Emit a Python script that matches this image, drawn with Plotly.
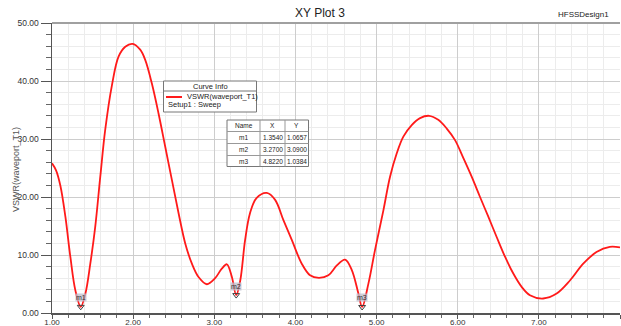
import plotly.graph_objects as go

# ---------------- data ----------------
freq = [1.00, 1.05, 1.104, 1.165, 1.226, 1.288, 1.354, 1.411, 1.472, 1.533, 1.595, 1.656,
        1.739, 1.82, 1.903, 1.993, 2.087, 2.15, 2.23, 2.313, 2.395, 2.478, 2.56, 2.642,
        2.724, 2.806, 2.908, 3.01, 3.09, 3.155, 3.217, 3.27, 3.32, 3.38, 3.44, 3.52,
        3.647, 3.75, 3.852, 3.955, 4.078, 4.18, 4.29, 4.406, 4.51, 4.612, 4.695, 4.776,
        4.822, 4.9, 4.98, 5.084, 5.166, 5.248, 5.33, 5.433, 5.536, 5.647, 5.76, 5.865,
        5.967, 6.07, 6.172, 6.275, 6.377, 6.48, 6.583, 6.685, 6.788, 6.89, 7.054, 7.219,
        7.383, 7.547, 7.71, 7.874, 8.00]
vswr = [25.8, 24.6, 21.9, 16.6, 9.7, 3.9, 1.07, 3.3, 8.5, 14.9, 23.5, 31.6,
        39.3, 44.2, 45.9, 46.4, 45.4, 43.6, 39.6, 34.4, 28.7, 22.9, 17.2, 12.0,
        8.5, 6.2, 4.96, 6.0, 7.6, 8.4, 6.2, 3.09, 5.6, 12.6, 17.2, 19.8,
        20.7, 19.5, 16.0, 12.6, 8.5, 6.5, 6.05, 6.5, 8.2, 9.2, 7.4, 3.35,
        1.04, 5.1, 10.8, 17.7, 23.5, 27.5, 30.4, 32.4, 33.6, 34.0, 33.3, 31.8,
        29.8, 26.7, 23.5, 20.0, 16.6, 13.1, 9.7, 6.8, 4.5, 3.06, 2.5, 3.35,
        5.6, 8.5, 10.5, 11.4, 11.3]

marker_names = ["m1", "m2", "m3"]
marker_x = [1.3540, 3.2700, 4.8220]
marker_y = [1.0657, 3.0900, 1.0384]

table_header = ["Name", "X", "Y"]
series_name = "VSWR(waveport_T1)"
sweep_name = "Setup1 : Sweep"
y_title = "VSWR(waveport_T1)"
plot_title = "XY Plot 3"
design_name = "HFSSDesign1"

# ---------------- layout geometry (pixels) ----------------
W, H = 621, 326
L, R, T, B = 52, 1, 23, 13
PW = W - L - R
PH = H - T - B
FONT = "Liberation Sans, Arial, sans-serif"


def px2x(px):
    return (px - L) / PW


def py2y(py):
    return (H - B - py) / PH


fig = go.Figure()

fig.add_trace(go.Scatter(
    x=freq, y=vswr, mode="lines",
    line=dict(color="#ff1a1a", width=1.8, shape="spline", smoothing=1.0),
    hoverinfo="skip", showlegend=False))

fig.add_trace(go.Scatter(
    x=marker_x, y=marker_y, mode="markers",
    marker=dict(symbol="triangle-down-open", size=6, color="#404040", line=dict(width=1)),
    hoverinfo="skip", showlegend=False))

annotations = []
shapes = []

# marker labels
for n, mx, my in zip(marker_names, marker_x, marker_y):
    annotations.append(dict(x=mx, y=my, xref="x", yref="y", text=n, showarrow=False,
                            yshift=9, font=dict(family=FONT, size=7, color="#333"),
                            bgcolor="rgba(190,190,205,0.75)", borderpad=0))

# title and design name
annotations.append(dict(x=px2x(320), y=py2y(13), xref="paper", yref="paper", text=plot_title,
                        showarrow=False, xanchor="center", yanchor="middle",
                        font=dict(family=FONT, size=12, color="#222")))
annotations.append(dict(x=px2x(611), y=py2y(14), xref="paper", yref="paper", text=design_name,
                        showarrow=False, xanchor="right", yanchor="middle",
                        font=dict(family=FONT, size=8, color="#222")))

# y axis title
annotations.append(dict(x=px2x(16), y=py2y(170), xref="paper", yref="paper", text=y_title,
                        showarrow=False, textangle=-90, xanchor="center", yanchor="middle",
                        font=dict(family=FONT, size=9, color="#555")))

# top border
shapes.append(dict(type="line", xref="paper", yref="paper", x0=0, x1=1, y0=1, y1=1,
                   line=dict(color="#a0a0a0", width=2)))

# ---- Curve Info box ----
bx0, bx1, by0, by1 = 163.5, 256.5, 81, 112
shapes.append(dict(type="rect", xref="paper", yref="paper",
                   x0=px2x(bx0), x1=px2x(bx1), y0=py2y(by1), y1=py2y(by0),
                   line=dict(color="#777", width=1), fillcolor="white", layer="above"))
shapes.append(dict(type="line", xref="paper", yref="paper",
                   x0=px2x(bx0), x1=px2x(bx1), y0=py2y(91), y1=py2y(91),
                   line=dict(color="#777", width=1), layer="above"))
shapes.append(dict(type="line", xref="paper", yref="paper",
                   x0=px2x(166), x1=px2x(182), y0=py2y(97), y1=py2y(97),
                   line=dict(color="#ff1a1a", width=2), layer="above"))
annotations.append(dict(x=px2x(210), y=py2y(86), xref="paper", yref="paper", text="Curve Info",
                        showarrow=False, xanchor="center", yanchor="middle",
                        font=dict(family=FONT, size=7.5, color="#222")))
annotations.append(dict(x=px2x(184.5), y=py2y(97), xref="paper", yref="paper", text=series_name,
                        showarrow=False, xanchor="left", yanchor="middle",
                        font=dict(family=FONT, size=7.5, color="#222")))
annotations.append(dict(x=px2x(165.5), y=py2y(104.5), xref="paper", yref="paper", text=sweep_name,
                        showarrow=False, xanchor="left", yanchor="middle",
                        font=dict(family=FONT, size=7.5, color="#222")))

# ---- marker table ----
col_edges = [227, 260, 285, 308.5]
row_edges = [120, 131.5, 143.5, 155.5, 166.5]
shapes.append(dict(type="rect", xref="paper", yref="paper",
                   x0=px2x(col_edges[0]), x1=px2x(col_edges[-1]),
                   y0=py2y(row_edges[-1]), y1=py2y(row_edges[0]),
                   line=dict(color="#777", width=1), fillcolor="white", layer="above"))
for cx in col_edges[1:-1]:
    shapes.append(dict(type="line", xref="paper", yref="paper", x0=px2x(cx), x1=px2x(cx),
                       y0=py2y(row_edges[-1]), y1=py2y(row_edges[0]),
                       line=dict(color="#999", width=1), layer="above"))
for ry in row_edges[1:-1]:
    shapes.append(dict(type="line", xref="paper", yref="paper",
                       x0=px2x(col_edges[0]), x1=px2x(col_edges[-1]), y0=py2y(ry), y1=py2y(ry),
                       line=dict(color="#999", width=1), layer="above"))

rows = [table_header] + [[n, f"{x:.4f}", f"{y:.4f}"] for n, x, y in zip(marker_names, marker_x, marker_y)]
for ri, row in enumerate(rows):
    cy = (row_edges[ri] + row_edges[ri + 1]) / 2
    for ci, txt in enumerate(row):
        cx = (col_edges[ci] + col_edges[ci + 1]) / 2
        annotations.append(dict(x=px2x(cx), y=py2y(cy), xref="paper", yref="paper", text=txt,
                                showarrow=False, xanchor="center", yanchor="middle",
                                font=dict(family=FONT, size=6.5, color="#222")))

fig.update_layout(
    width=W, height=H,
    margin=dict(l=L, r=R, t=T, b=B, pad=0),
    paper_bgcolor="white", plot_bgcolor="white",
    font=dict(family=FONT, size=8.5, color="#333"),
    showlegend=False, hovermode=False,
    annotations=annotations, shapes=shapes,
    xaxis=dict(range=[1, 8], dtick=1, tick0=1, tickformat=".2f",
               showgrid=True, gridcolor="#cdcdcd", gridwidth=1,
               showline=True, linecolor="#555", linewidth=1.5,
               ticks="outside", ticklen=4, tickcolor="#555",
               ticklabelstandoff=-3,
               zeroline=False, automargin=False,
               minor=dict(dtick=0.2, showgrid=True, gridcolor="#ececec",
                          ticks="outside", ticklen=3, tickcolor="#666"),
               tickfont=dict(family=FONT, size=8, color="#333")),
    yaxis=dict(range=[0, 50], dtick=10, tick0=0, tickformat=".2f",
               showgrid=True, gridcolor="#cdcdcd", gridwidth=1,
               showline=True, linecolor="#555", linewidth=1.5,
               ticks="outside", ticklen=10, tickcolor="#555",
               zeroline=False, automargin=False,
               minor=dict(dtick=2, showgrid=True, gridcolor="#ececec",
                          ticks="outside", ticklen=5, tickcolor="#666"),
               tickfont=dict(family=FONT, size=8.5, color="#333")),
)

fig.write_html("out.html", config={"displayModeBar": False, "staticPlot": True},
               post_script="document.body.style.margin='0';document.body.style.overflow='hidden';")
